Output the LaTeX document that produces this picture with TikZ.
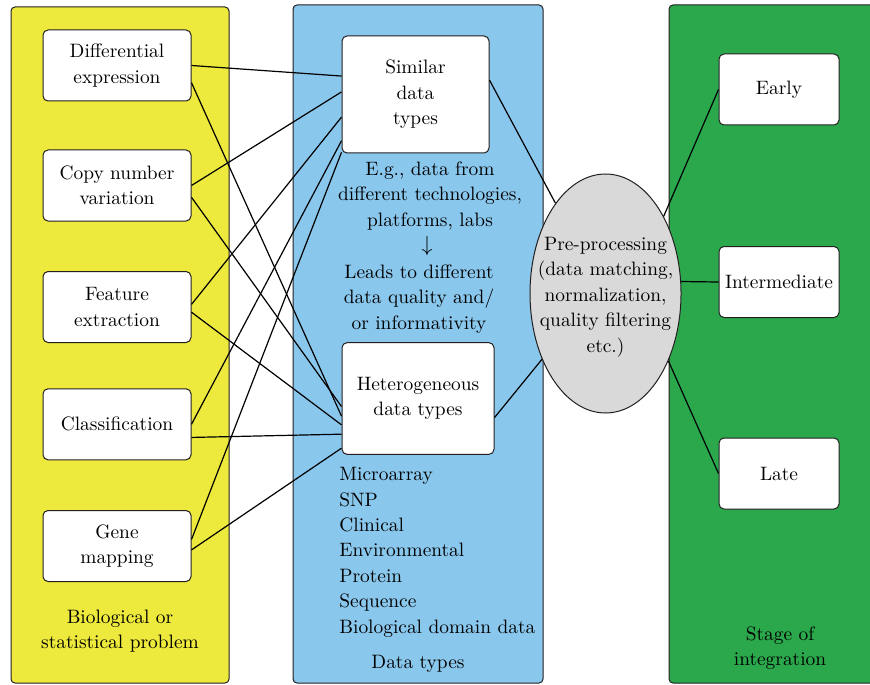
\documentclass[tikz,border=0pt]{standalone}
\usepackage{tikz}
\usetikzlibrary{shapes.geometric}
\definecolor{probyellow}{RGB}{237,233,61}
\definecolor{typeblue}{RGB}{138,199,237}
\definecolor{stagegreen}{RGB}{43,168,76}
\definecolor{preprocgrey}{RGB}{217,217,217}
\definecolor{edgegrey}{RGB}{35,31,32}
\tikzset{
  panel/.style={draw=edgegrey, line width=0.5pt, rounded corners=2pt},
  box/.style={draw=edgegrey, line width=0.5pt, fill=white, rounded corners=2.5pt, align=center, inner sep=0pt},
  probbox/.style={box, minimum width=74pt, minimum height=35.5pt},
  stagebox/.style={box, minimum width=60pt, minimum height=35.5pt},
  link/.style={line width=0.6pt},
  txt/.style={align=center, inner sep=0pt}
}

\begin{document}
\begin{tikzpicture}[x=0.5pt, y=-0.5pt, font=\fontsize{9.7}{12.7}\selectfont]
  \clip (0,0) rectangle (870,684);
  \fill[white] (0,0) rectangle (870,684);
  \draw[panel, fill=probyellow] (11,7) rectangle (229,683);
  \draw[panel, fill=typeblue] (293,5) rectangle (543,683);
  \draw[panel, fill=stagegreen] (669,5) rectangle (890,683);

  \node[probbox] (diff) at (117,65.5) {Differential\\expression};
  \node[probbox] (cnv) at (117,185.5) {Copy number\\variation};
  \node[probbox] (feat) at (117,307) {Feature\\extraction};
  \node[probbox] (class) at (117,424.3) {Classification};
  \node[probbox] (gene) at (117,546) {Gene\\mapping};
  \node[txt] at (120,631) {Biological or\\statistical problem};

  \node[box, minimum width=73.5pt, minimum height=58.5pt] (sim) at (415.5,94.5) {Similar\\data\\types};
  \node[txt] at (430,196) {E.g., data from\\different technologies,\\platforms, labs};
  \node[txt, font=\fontsize{11}{12}\selectfont] at (427,246) {$\downarrow$};
  \node[txt] at (419,299) {Leads to different\\data quality and/\\or informativity};
  \node[box, minimum width=76pt, minimum height=55.8pt] (het) at (418,398.5) {Heterogeneous\\data types};
  \node[txt, align=left, anchor=north west] at (339,467) {Microarray\\SNP\\Clinical\\Environmental\\Protein\\Sequence\\Biological domain data};
  \node[txt] at (418,664) {Data types};

  \node[ellipse, draw=edgegrey, line width=0.5pt, fill=preprocgrey, minimum width=75.5pt, minimum height=119.5pt, inner sep=0pt] (pre) at (605.5,293.5) {};
  \node[txt] at (605.5,297) {Pre-processing\\(data matching,\\normalization,\\quality filtering\\etc.)};

  \node[stagebox] (early) at (779,89.5) {Early};
  \node[stagebox] (inter) at (779,282) {Intermediate};
  \node[stagebox] (late) at (779,473.5) {Late};
  \node[txt] at (780,648) {Stage of\\integration};

  \draw[link] (diff.east) -- (sim.166);
  \draw[link] (diff.-13) -- (het.193);
  \draw[link] (cnv.east) -- (sim.178);
  \draw[link] (cnv.-9) -- (het.186);
  \draw[link] (feat.2) -- (sim.197);
  \draw[link] (feat.-4) -- (het.199);
  \draw[link] (class.east) -- (sim.212);
  \draw[link] (class.-10) -- (het.205);
  \draw[link] (gene.5) -- (sim.218);
  \draw[link] (gene.-3) -- (het.213);
  \draw[link] (sim.11) -- (pre.119);
  \draw[link] (het.-14) -- (pre.226);
  \draw[link] (pre.53) -- (early.west);
  \draw[link] (pre.9) -- (inter.west);
  \draw[link] (pre.-47) -- (late.west);
\end{tikzpicture}
\end{document}
